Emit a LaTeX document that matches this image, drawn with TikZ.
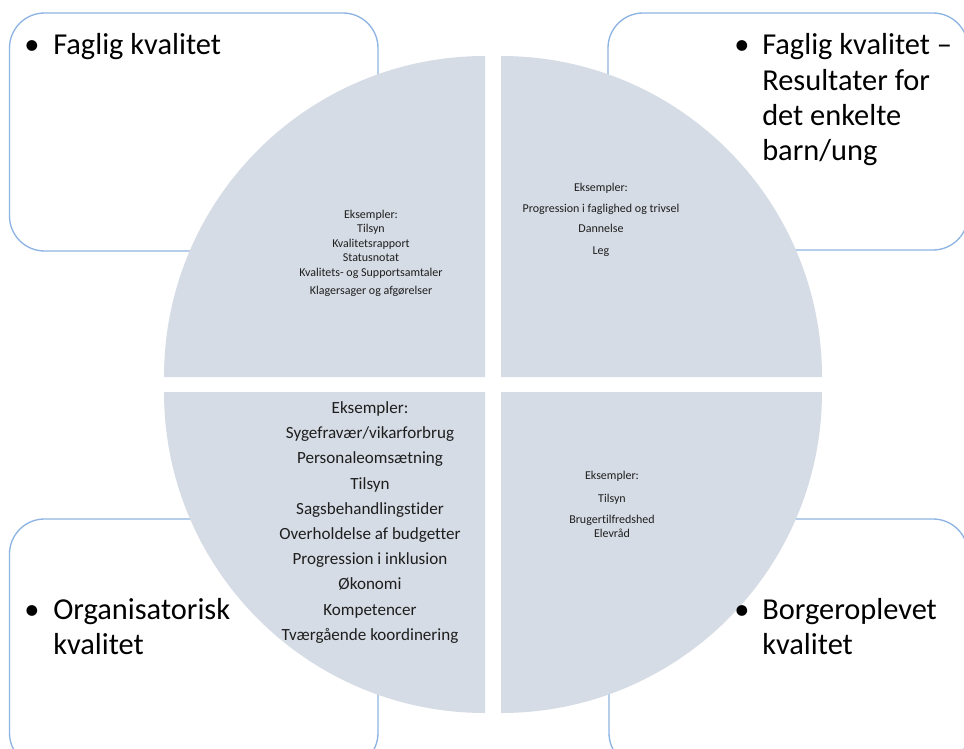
\documentclass[tikz,border=0pt]{standalone}
\usepackage{fontspec}
\setmainfont{Carlito}[Ligatures={NoCommon,NoRare,NoContextual}]
\definecolor{quadfill}{HTML}{D6DCE5}
\definecolor{boxline}{HTML}{8EB4E3}
\definecolor{smalltext}{HTML}{1E1E1E}
\begin{document}
\begin{tikzpicture}[x=0.75pt,y=-0.75pt,
  cornerbox/.style={draw=boxline,line width=1pt,fill=white,rounded corners=26.25pt},
  quadrant/.style={fill=quadfill,draw=none},
  mainlabel/.style={font=\fontsize{22.8}{26.3}\selectfont,anchor=base west,inner sep=0pt,text=black},
  bulletmark/.style={font=\fontsize{22.8}{26.3}\selectfont,anchor=base,inner sep=0pt,text=black},
  smalltxt/.style={font=\fontsize{9}{11}\selectfont,anchor=base,inner sep=0pt,text=smalltext},
  midtxt/.style={font=\fontsize{12.8}{15}\selectfont,anchor=base,inner sep=0pt,text=smalltext}]
\useasboundingbox (0,0) rectangle (964,749);
\clip (0,0) rectangle (964,749);
\fill[white] (0,0) rectangle (964,749);
% corner boxes
\draw[cornerbox] (9.5,13) rectangle (378,251);
\draw[cornerbox] (608,13) rectangle (968,250);
\draw[cornerbox] (9.5,519) rectangle (378,768);
\draw[cornerbox] (609,519) rectangle (968,768);
% quadrants
\fill[quadrant] (485,377) -- ++(-321,0) arc[start angle=180,end angle=270,radius=321] -- cycle;
\fill[quadrant] (501,377) -- ++(321,0) arc[start angle=0,end angle=-90,radius=321] -- cycle;
\fill[quadrant] (485,392) -- ++(-321,0) arc[start angle=180,end angle=90,radius=321] -- cycle;
\fill[quadrant] (501,392) -- ++(321,0) arc[start angle=0,end angle=90,radius=321] -- cycle;
% main labels
\node[bulletmark] (tlb) at (32,55) {•};
\node[mainlabel] (tl1) at (53,55) {Faglig kvalitet};
\node[bulletmark] (trb) at (742,55) {•};
\node[mainlabel] (tr1) at (762,55) {Faglig kvalitet –};
\node[mainlabel] (tr2) at (762,90) {Resultater for};
\node[mainlabel] (tr3) at (762,125) {det enkelte};
\node[mainlabel] (tr4) at (762,160) {barn/ung};
\node[bulletmark] (blb) at (32,619) {•};
\node[mainlabel] (bl1) at (53,619) {Organisatorisk};
\node[mainlabel] (bl2) at (53,654) {kvalitet};
\node[bulletmark] (brb) at (742,619) {•};
\node[mainlabel] (br1) at (762,619) {Borgeroplevet};
\node[mainlabel] (br2) at (762,654) {kvalitet};
% top-left quadrant text
\foreach \yy/\tt [count=\i] in {218/{Eksempler:},232.5/{Tilsyn},247/{Kvalitetsrapport},261.5/{Statusnotat},276/{Kvalitets- og Supportsamtaler},294/{Klagersager og afgørelser}}
  \node[smalltxt] (qa\i) at (371,\yy) {\tt};
% top-right quadrant text
\foreach \yy/\tt [count=\i] in {191/{Eksempler:},212/{Progression i faglighed og trivsel},232/{Dannelse},254/{Leg}}
  \node[smalltxt] (qb\i) at (601,\yy) {\tt};
% bottom-left quadrant text
\foreach \yy/\tt [count=\i] in {413.5/{Eksempler:},438.7/{Sygefravær/vikarforbrug},463.9/{Personaleomsætning},489.1/{Tilsyn},514.3/{Sagsbehandlingstider},539.5/{Overholdelse af budgetter},564.7/{Progression i inklusion},589.9/{Økonomi},615.1/{Kompetencer},640.3/{Tværgående koordinering}}
  \node[midtxt] (qc\i) at (370,\yy) {\tt};
% bottom-right quadrant text
\foreach \yy/\tt [count=\i] in {479/{Eksempler:},502/{Tilsyn},523/{Brugertilfredshed},537.5/{Elevråd}}
  \node[smalltxt] (qd\i) at (612,\yy) {\tt};
\end{tikzpicture}
\end{document}
